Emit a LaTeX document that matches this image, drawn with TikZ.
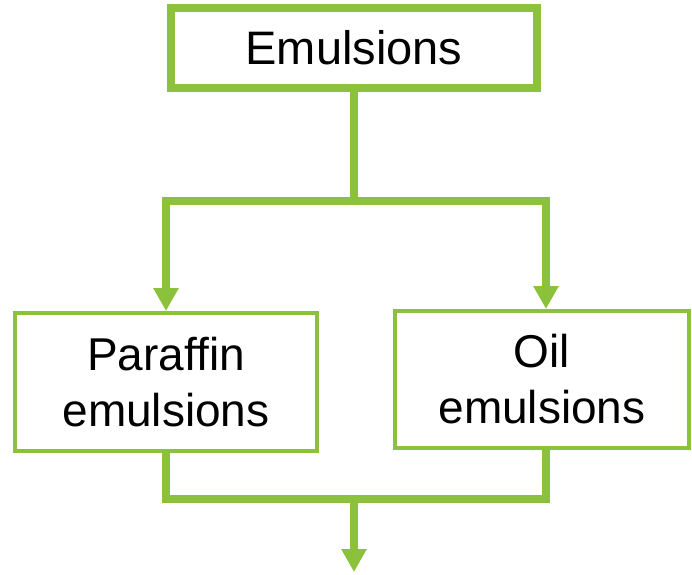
\documentclass[tikz,border=0pt]{standalone}
\usepackage{fontspec}
\setmainfont{Liberation Sans}
\usetikzlibrary{arrows.meta,calc}
\definecolor{lgreen}{RGB}{140,193,60}
\begin{document}
\begin{tikzpicture}[x=1pt,y=-1pt,
  topbox/.style={draw=lgreen,line width=8pt,fill=white,minimum width=366pt,minimum height=80pt,inner sep=0pt,font=\fontsize{47}{56}\selectfont},
  subbox/.style={draw=lgreen,line width=4pt,fill=white,inner sep=0pt,align=center,font=\fontsize{46}{56}\selectfont},
  conn/.style={draw=lgreen,line width=8pt},
  tip/.style={-{Triangle[width=24pt,length=23pt]}}
]
\useasboundingbox (0,0) rectangle (692,574);
\node[topbox] (top) at (354,48) {Emulsions};
\node[subbox,minimum width=302pt,minimum height=138pt] (left) at (166,382) {Paraffin\\emulsions};
\node[subbox,minimum width=294pt,minimum height=137pt] (right) at (542,379.5) {Oil\\emulsions};
\coordinate (j1) at (354,201);
\coordinate (j2) at (354,499);
\coordinate (end) at (354,572);
\draw[conn] (top.south) -- (j1);
\draw[conn,tip] (j1) -| (left.north);
\draw[conn,tip] (j1) -| ([xshift=4pt]right.north);
\draw[conn] (left.south) |- (j2) -| ([xshift=4pt]right.south);
\draw[conn,tip] (j2) -- (end);
\end{tikzpicture}
\end{document}
